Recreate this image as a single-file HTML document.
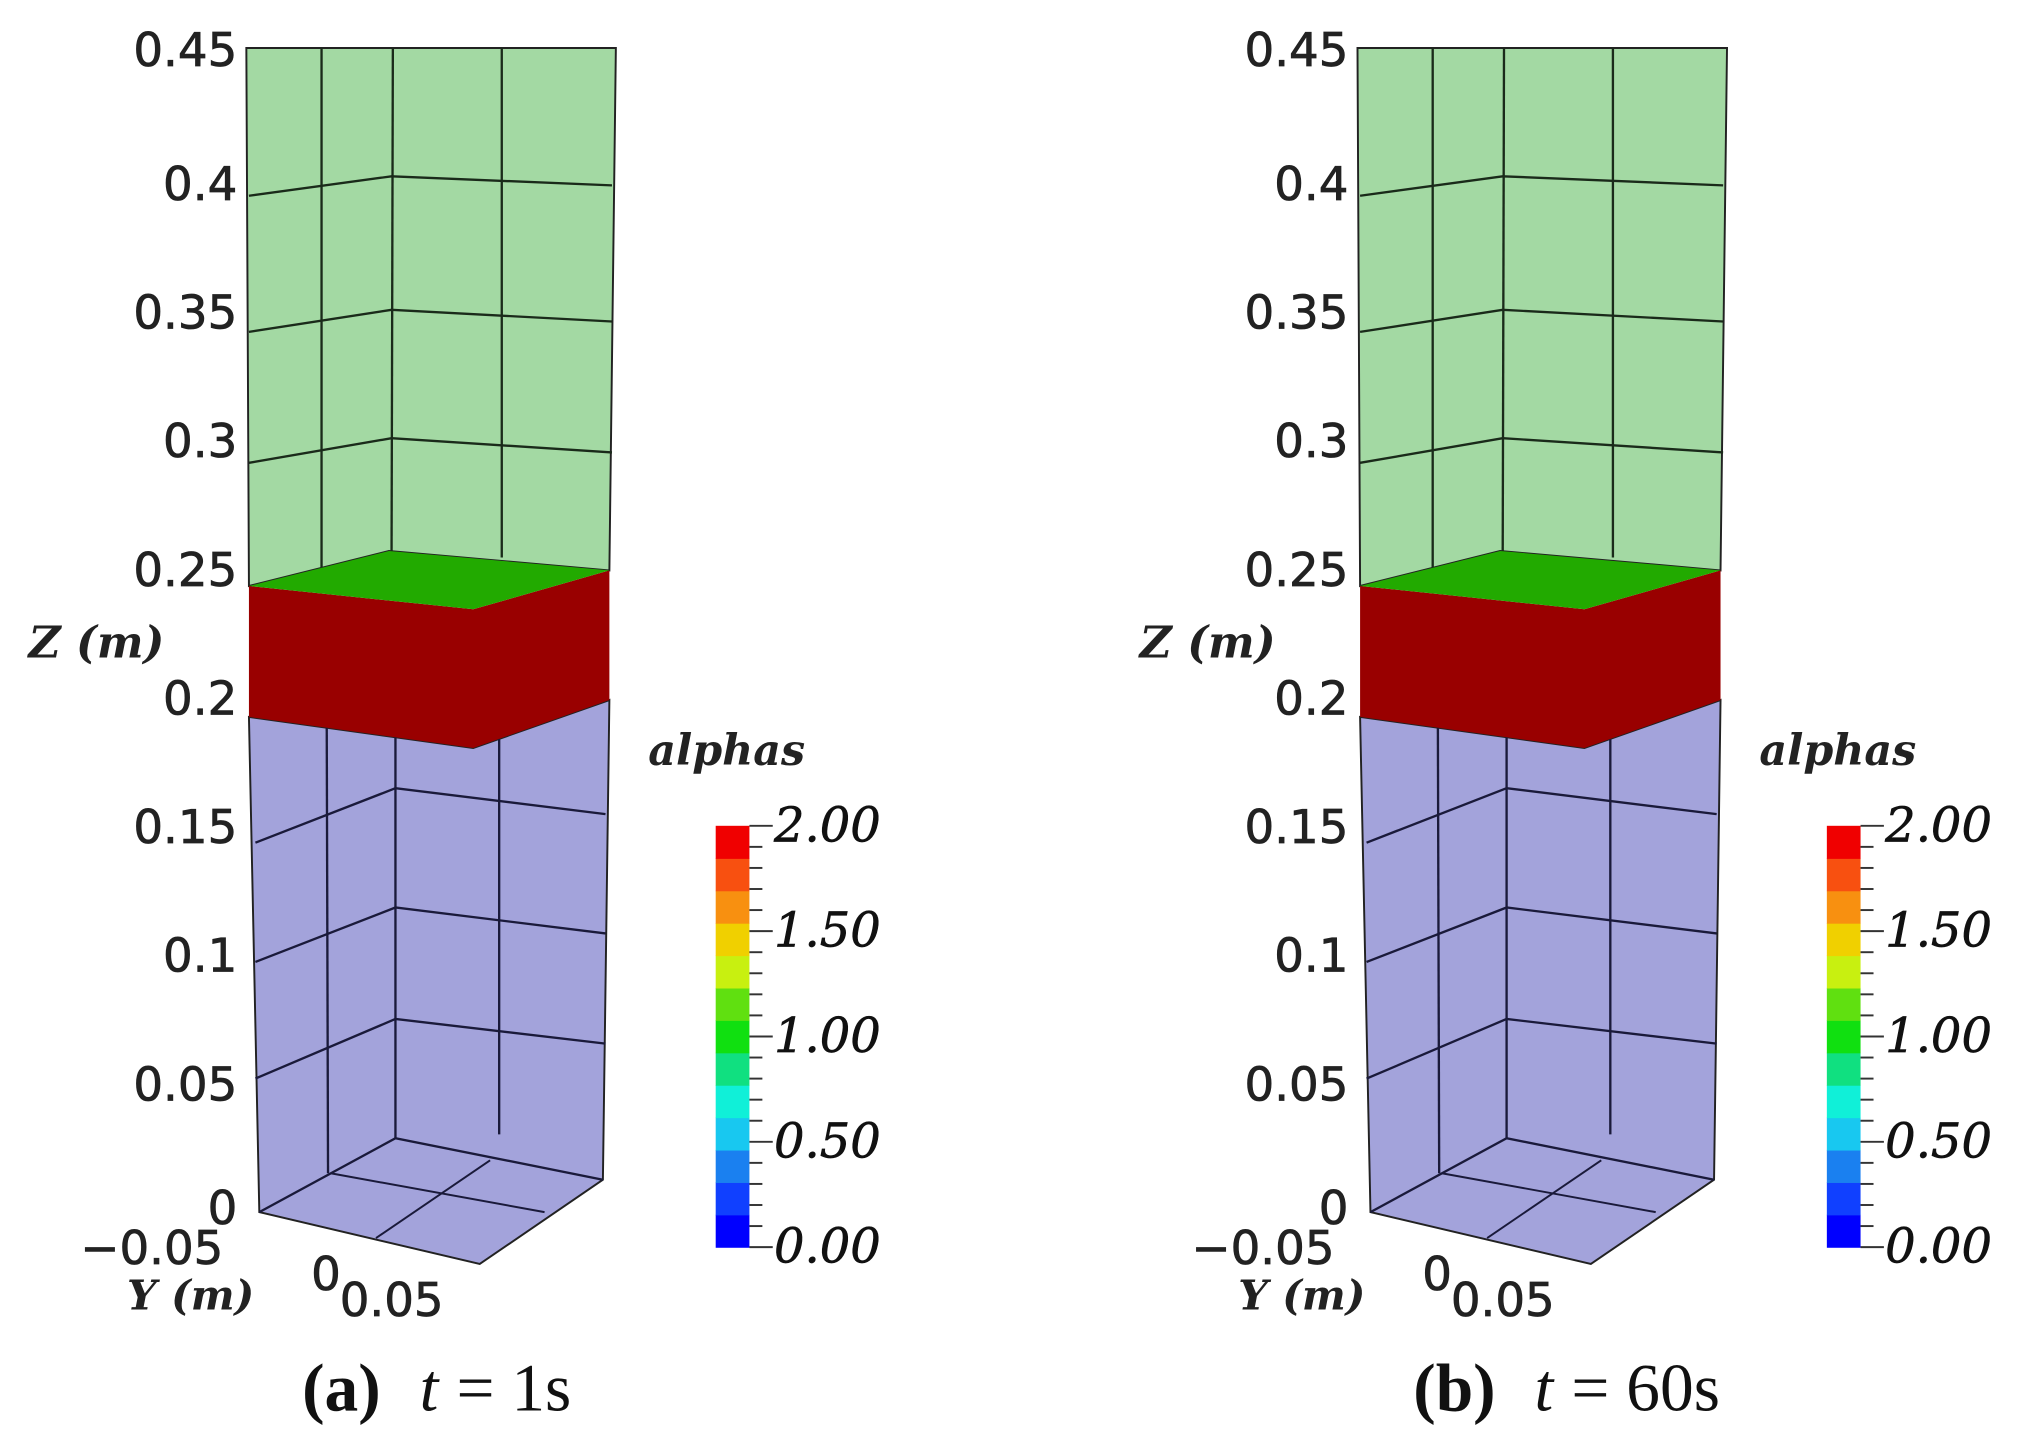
<!DOCTYPE html>
<html><head><meta charset="utf-8"><style>
html,body{margin:0;padding:0;background:#fff;}
svg{display:block;}
</style></head><body>
<svg id="fig" width="2033" height="1439" viewBox="0 0 1568 1110" preserveAspectRatio="none" xmlns="http://www.w3.org/2000/svg"></svg>
<script>
const zTickLabels = ["0.45","0.4","0.35","0.3","0.25","0.2","0.15","0.1","0.05","0"];
const zTickValues = [0.45,0.4,0.35,0.3,0.25,0.2,0.15,0.1,0.05,0];
const cbTickLabels = ["2.00","1.50","1.00","0.50","0.00"];
const cbTickValues = [2,1.5,1,0.5,0];
const cbBandColors = ["#0000ff","#1040ff","#1a80f0","#18c8f0","#10f0d8","#10e080","#10e010","#60e010","#c8f010","#f0d000","#f89010","#f85010","#f00000"];
const panelCaptions = [["(a)","1s"],["(b)","60s"]];
const panelOffsets = [0,857];

const NS="http://www.w3.org/2000/svg";
const svg=document.getElementById('fig');
function mk(tag,attrs,parent,txt){const e=document.createElementNS(NS,tag);for(const k in attrs)e.setAttribute(k,attrs[k]);if(txt!==undefined)e.textContent=txt;(parent||svg).appendChild(e);return e;}
function zy(v){return 37+(0.45-v)/0.45*(930-37);}
function cy(v){return 962-(v/2)*(962-637);}

panelOffsets.forEach((dx,pi)=>{
  const g=mk('g',{transform:'translate('+dx+',0)'});
  
  
  const green=mk('polygon',{points:'190,37 475,37 470,440 300,425 192,452',fill:'#a3d9a3',stroke:'#222','stroke-width':1.5},g);
  
  [[248,37,248,445],[303,37,302,425],[387,37,387,430]].forEach(l=>mk('line',{x1:l[0],y1:l[1],x2:l[2],y2:l[3],stroke:'#1a2a1a','stroke-width':1.8},g));
  [142,247,348].forEach((y,i)=>{mk('polyline',{points:'192,'+(y+9)+' 302,'+(y-6-i*2)+' 472,'+(y+1),fill:'none',stroke:'#1a2a1a','stroke-width':1.8},g);});
  const blue=mk('polygon',{points:'192,553 365,577 470,540 465,910 370,975 200,935',fill:'#a3a3db',stroke:'#222','stroke-width':1.5},g);
  
  [[252,560,253,905],[305,560,305,878],[385,570,385,875]].forEach(l=>mk('line',{x1:l[0],y1:l[1],x2:l[2],y2:l[3],stroke:'#1a1a3a','stroke-width':1.8},g));
  [[650,608,628],[742,700,720],[832,786,805]].forEach(r=>mk('polyline',{points:'197,'+r[0]+' 305,'+r[1]+' 467,'+r[2],fill:'none',stroke:'#1a1a3a','stroke-width':1.8},g));
  mk('polyline',{points:'200,935 305,878 465,910',fill:'none',stroke:'#1a1a3a','stroke-width':1.8},g);
  mk('polyline',{points:'255,905 420,935',fill:'none',stroke:'#1a1a3a','stroke-width':1.5},g);
  mk('polyline',{points:'290,955 378,895',fill:'none',stroke:'#1a1a3a','stroke-width':1.5},g);
  const red=mk('polygon',{points:'192,452 365,470 470,440 470,540 365,577 192,553',fill:'#990000'},g);
  
  const top=mk('polygon',{points:'192,452 300,425 470,440 365,470',fill:'#22aa00'},g);
  
  zTickValues.forEach((v,i)=>{const t=mk('text',{x:183,y:zy(v)+14+(i>0&&i<9?4:0),'text-anchor':'end','font-family':'DejaVu Sans, Liberation Sans, sans-serif','font-size':36,fill:'#222',stroke:'#222','stroke-width':0.6},g,zTickLabels[i]);
    });
  const zt=mk('text',{x:22,y:507,'font-family':'DejaVu Serif, Liberation Serif, serif','font-size':34,'font-style':'italic','font-weight':'bold',fill:'#222'},g,'Z (m)');
  
  const y1=mk('text',{x:62,y:975,'font-family':'DejaVu Sans, Liberation Sans, sans-serif','font-size':36,fill:'#222',stroke:'#222','stroke-width':0.6},g,'\u22120.05');
  
  const y2=mk('text',{x:240,y:995,'font-family':'DejaVu Sans, Liberation Sans, sans-serif','font-size':36,fill:'#222',stroke:'#222','stroke-width':0.6},g,'0');
  
  const y3=mk('text',{x:262,y:1015,'font-family':'DejaVu Sans, Liberation Sans, sans-serif','font-size':36,fill:'#222',stroke:'#222','stroke-width':0.6},g,'0.05');
  
  const yt=mk('text',{x:98,y:1010,'font-family':'DejaVu Serif, Liberation Serif, serif','font-size':32,'font-style':'italic','font-weight':'bold',fill:'#222'},g,'Y (m)');
  
  const bh=(962-637)/cbBandColors.length;
  cbBandColors.forEach((c,i)=>{const r=mk('rect',{x:552,y:962-(i+1)*bh,width:26,height:bh+0.5,fill:c},g);
    });
  for(let k=0;k<=20;k++){const yy=cy(k*0.1);mk('line',{x1:578,y1:yy,x2:(k%5===0?596:588),y2:yy,stroke:'#333','stroke-width':1.5},g);}
  cbTickValues.forEach((v,i)=>{const t=mk('text',{x:597,y:cy(v)+12,'font-family':'DejaVu Serif, Liberation Serif, serif','font-size':37,'font-style':'italic',fill:'#111',stroke:'#111','stroke-width':0.5},g,cbTickLabels[i]);
    });
  const at=mk('text',{x:500,y:590,'font-family':'DejaVu Serif, Liberation Serif, serif','font-size':33,'font-style':'italic','font-weight':'bold',fill:'#222'},g,'alphas');
  
  const cap=mk('text',{x:233,y:1088,'font-family':'Liberation Serif, serif','font-size':52,fill:'#111'},g);
  
  mk('tspan',{'font-weight':'bold'},cap,panelCaptions[pi][0]);
  mk('tspan',{'font-style':'italic',dx:30},cap,'t');
  mk('tspan',{dx:14},cap,'= '+panelCaptions[pi][1]);
});
</script>
</body></html>
